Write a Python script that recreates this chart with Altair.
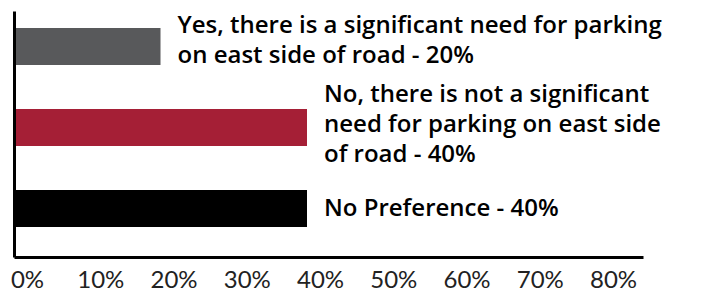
import altair as alt
import pandas as pd

categories = ["Yes", "No", "No Preference"]
values = [0.20, 0.40, 0.40]
labels = [
    "Yes, there is a significant need for parking\non east side of road - 20%",
    "No, there is not a significant\nneed for parking on east side\nof road - 40%",
    "No Preference - 40%",
]
colors = ["#58595b", "#a51f36", "#000000"]
tick_values = [0, 0.1, 0.2, 0.3, 0.4, 0.5, 0.6, 0.7, 0.8]

df = pd.DataFrame({"cat": categories, "value": values, "label": labels})

xscale = alt.Scale(domain=[0, 0.8587], nice=False, zero=False)
yscale = alt.Scale(domain=categories, paddingInner=0.543, paddingOuter=0.29, align=0.36)

bars = alt.Chart(df).mark_bar(cornerRadius=0).encode(
    x=alt.X("value:Q", scale=xscale,
            axis=alt.Axis(values=tick_values, format=".0%", title=None, grid=False,
                          ticks=False, domain=True, domainColor="#000", domainWidth=3,
                          labelFont="Lato", labelFontSize=24, labelColor="#222",
                          labelPadding=11, labelOffset=13, labelFlush=False,
                          labelOverlap=False, zindex=1)),
    y=alt.Y("cat:N", scale=yscale,
            axis=alt.Axis(title=None, labels=False, ticks=False, domain=True,
                          domainColor="#000", domainWidth=3, grid=False, zindex=1)),
    color=alt.Color("cat:N", scale=alt.Scale(domain=categories, range=colors), legend=None),
)


def label_layer(cat, dy):
    return alt.Chart(df).transform_filter(alt.datum.cat == cat).mark_text(
        align="left", baseline="middle", dx=17, dy=dy, font="Open Sans", fontWeight=600,
        fontSize=24, lineBreak="\n", lineHeight=30, color="#000"
    ).encode(
        x=alt.X("value:Q", scale=xscale),
        y=alt.Y("cat:N", scale=yscale),
        text="label:N",
    )


chart = alt.layer(
    bars,
    label_layer("Yes", -20),
    label_layer("No", -32),
    label_layer("No Preference", 1),
).properties(
    width=629, height=246,
    autosize=alt.AutoSizeParams(type="none"),
    padding={"left": 6, "top": 3, "right": 56, "bottom": 36},
).configure_view(stroke=None)

chart.save("out.html", embed_options={"renderer": "svg", "actions": False})
